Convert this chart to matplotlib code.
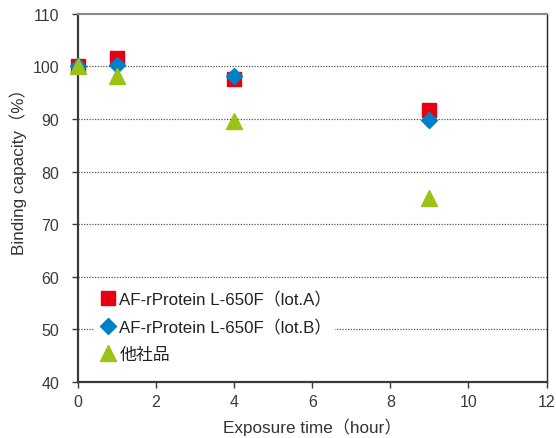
import matplotlib.pyplot as plt

plt.rcParams['font.family'] = ['Liberation Sans', 'Noto Sans CJK JP', 'DejaVu Sans']

hours = [0, 1, 4, 9]
lot_a = [100, 101.6, 97.6, 91.7]
lot_b = [100, 100.3, 98.1, 89.8]
other = [100, 98.2, 89.6, 74.9]

labels = ['AF-rProtein L-650F（lot.A）', 'AF-rProtein L-650F（lot.B）', '他社品']
x_ticks = [0, 2, 4, 6, 8, 10, 12]
y_ticks = [40, 50, 60, 70, 80, 90, 100, 110]

fig = plt.figure(figsize=(5.56, 4.39), dpi=100)
ax = fig.add_axes([0.140, 0.128, 0.843, 0.838])

# dotted grid lines
for y in y_ticks[1:-1]:
    ax.axhline(y, color='#555555', lw=0.9, ls=(0, (1, 1.2)), zorder=1)

ax.plot(hours, lot_a, 's', color='#e60012', ms=10.5, label=labels[0], zorder=3, clip_on=False)
ax.plot(hours, lot_b, 'D', color='#0080c8', ms=8.5, label=labels[1], zorder=4, clip_on=False)
ax.plot(hours, other, '^', color='#9cc215', ms=11, label=labels[2], zorder=5, clip_on=False)

ax.set_xlim(0, 12)
ax.set_ylim(40, 110)
ax.set_xticks(x_ticks)
ax.set_yticks(y_ticks)
ax.tick_params(direction='out', length=4.5, width=1, colors='#3a3a3a', labelsize=11.5)
ax.tick_params(axis='x', pad=4)
ax.tick_params(axis='y', pad=9)

for s in ['left', 'bottom']:
    ax.spines[s].set_color('#3a3a3a')
    ax.spines[s].set_linewidth(1.6)
ax.spines['top'].set_color('#8a8a8a')
ax.spines['top'].set_linewidth(1.5)
ax.spines['right'].set_color('#222222')
ax.spines['right'].set_linewidth(1.0)

ax.set_xlabel('Exposure time（hour）', fontsize=12.3, color='#333333', labelpad=6)
ax.set_ylabel('Binding capacity（%）', fontsize=12.3, color='#333333')
ax.yaxis.set_label_coords(-0.108, 0.585)

leg = ax.legend(loc='lower left', bbox_to_anchor=(0.018, 0.022), frameon=True,
                fontsize=12.2, handletextpad=0.05, handlelength=1.2,
                labelspacing=0.68, borderpad=0.2)
leg.get_frame().set_edgecolor('none')
leg.get_frame().set_facecolor('white')
leg.get_frame().set_alpha(1)
for t in leg.get_texts():
    t.set_color('#222222')

fig.savefig('out.png', dpi=100)
